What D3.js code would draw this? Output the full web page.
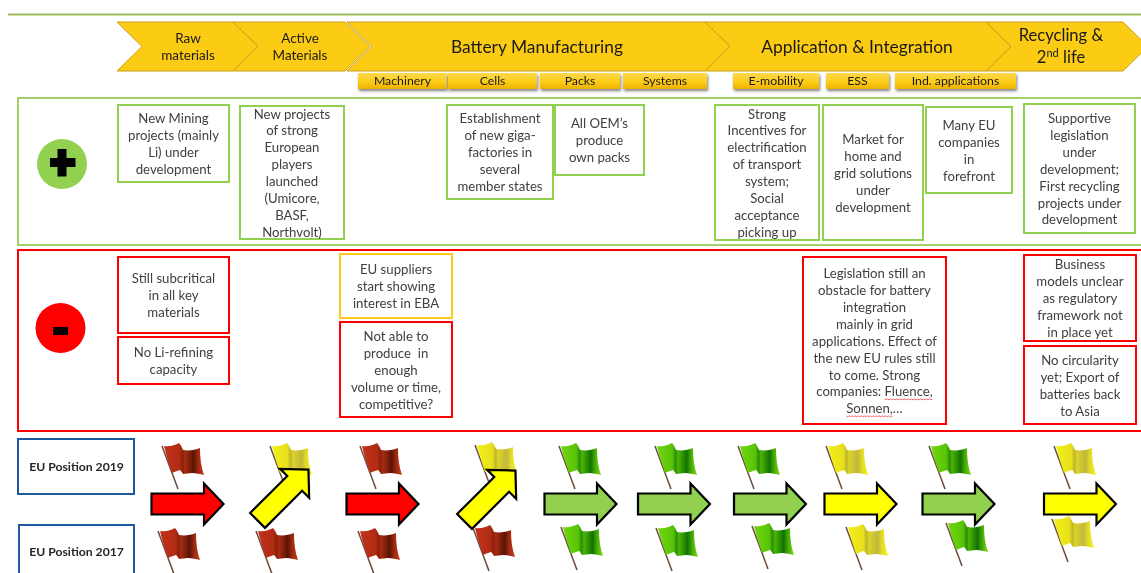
<!DOCTYPE html>
<html>
<head>
<meta charset="utf-8">
<script src="https://cdn.jsdelivr.net/npm/d3@7"></script>
<style>
  html, body { margin: 0; padding: 0; background: #fff; overflow: hidden; }
  svg { display: block; font-family: Lato, "Open Sans", sans-serif; filter: blur(0.3px); }
</style>
</head>
<body>
<div id="vis"></div>
<script>
// Chart content
const stages = ['Raw materials', 'Active Materials', 'Battery Manufacturing', 'Application & Integration', 'Recycling & 2nd life'];
const tabs = ['Machinery', 'Cells', 'Packs', 'Systems', 'E-mobility', 'ESS', 'Ind. applications'];
const columns = ['Raw materials', 'Active Materials', 'Machinery', 'Cells', 'Packs', 'Systems', 'E-mobility', 'ESS', 'Ind. applications', 'Recycling'];
const rating2019 = ['red', 'yellow', 'red', 'yellow', 'green', 'green', 'green', 'yellow', 'green', 'yellow'];
const rating2017 = ['red', 'red', 'red', 'red', 'green', 'green', 'green', 'yellow', 'green', 'yellow'];
const trend = ['red', 'yellow', 'red', 'yellow', 'green', 'green', 'green', 'yellow', 'green', 'yellow'];
const improving = [false, true, false, true, false, false, false, false, false, false];

const plusNotes = [
  ['New Mining', 'projects (mainly', 'Li) under', 'development'],
  ['New projects', 'of strong', 'European', 'players', 'launched', '(Umicore,', 'BASF,', 'Northvolt)'],
  ['Establishment', 'of new giga-', 'factories in', 'several', 'member states'],
  ['All OEM\u2019s', 'produce', 'own packs'],
  ['Strong', 'Incentives for', 'electrification', 'of transport', 'system;', 'Social', 'acceptance', 'picking up'],
  ['Market for', 'home and', 'grid solutions', 'under', 'development'],
  ['Many EU', 'companies', 'in', 'forefront'],
  ['Supportive', 'legislation', 'under', 'development;', 'First recycling', 'projects under', 'development']
];
const minusNotes = [
  ['Still subcritical', 'in all key', 'materials'],
  ['No Li-refining', 'capacity'],
  ['EU suppliers', 'start showing', 'interest in EBA'],
  ['Not able to', 'produce  in', 'enough', 'volume or time,', 'competitive?'],
  ['Legislation still an', 'obstacle for battery', 'integration', 'mainly in grid', 'applications. Effect of', 'the new EU rules still', 'to come. Strong', 'companies: Fluence,', 'Sonnen,\u2026'],
  ['Business', 'models unclear', 'as regulatory', 'framework not', 'in place yet'],
  ['No circularity', 'yet; Export of', 'batteries back', 'to Asia']
];
const minusTone = ['red', 'red', 'gold', 'red', 'red', 'red', 'red'];
const spellFlagged = ['Fluence,', 'Sonnen,'];
const positionLabels = ['EU Position 2019', 'EU Position 2017'];

// Layout
const width = 1141;
const height = 573;
const chevronEdges = [[117, 233], [233, 345], [347, 705], [705, 986], [986, 1123]];
const chevronDepth = 25;
const tabEdges = [[358, 447], [448, 537], [540, 620], [623, 707], [733, 819], [826, 889], [895, 1016]];
const plusRects = [
  [118, 105, 229, 182], [240, 106, 344, 239], [447, 105, 553, 199], [555, 105, 644, 175],
  [715, 105, 819, 240], [823, 105, 923, 240], [926, 107, 1012, 193], [1024, 104, 1135, 233]
];
const minusRects = [
  [118, 257, 229, 333], [118, 337, 229, 384], [340, 254, 452, 318], [340, 322, 452, 417],
  [803, 257, 946, 424], [1024, 255, 1136, 341], [1024, 346, 1136, 424]
];

const tone = d3.scaleOrdinal().domain(['green', 'red', 'gold']).range(['#92d050', '#ff0000', '#ffc91f']);
const arrowFill = d3.scaleOrdinal().domain(['red', 'yellow', 'green']).range(['#ff0000', '#ffff00', '#92d050']);

// Column scales: the columns are hand placed in the picture, not evenly spaced
const flagX2019 = d3.scaleOrdinal().domain(columns).range([162, 270, 360, 475, 559, 655, 738, 826, 929, 1054]);
const flagY2019 = d3.scaleOrdinal().domain(columns).range([446, 446, 446, 445, 446, 446, 446, 446, 446, 446]);
const flagX2017 = d3.scaleOrdinal().domain(columns).range([158, 256, 358, 473, 561, 656, 752, 846, 946, 1052]);
const flagY2017 = d3.scaleOrdinal().domain(columns).range([531, 531, 531, 528, 527, 528, 526, 527, 523, 519]);
const arrowX = d3.scaleOrdinal().domain(columns).range([187.5, 283, 382.5, 490, 580.5, 674, 770, 860.5, 958.5, 1080]);
const arrowY = d3.scaleOrdinal().domain(columns).range([504, 495, 504, 496, 504, 504, 504, 504, 504, 504]);

const svg = d3.select('#vis').append('svg')
  .attr('width', width)
  .attr('height', height)
  .attr('viewBox', '0 0 ' + width + ' ' + height);

const defs = svg.append('defs');

// Flag gradients, one per rating
const flagOffsets = [0, 0.38, 0.47, 0.52, 0.74, 0.86, 1];
const flagStops = {
  red: ['#c4301a', '#b02c14', '#8a2008', '#a82c12', '#5c1404', '#a02a10', '#c63a1e'],
  yellow: ['#f4f014', '#e8e01c', '#bdb42c', '#dcd428', '#c2b83c', '#e4dc28', '#f7f310'],
  green: ['#72d60e', '#58c408', '#2a8c02', '#4cb606', '#127400', '#48ac06', '#7edc10']
};
Object.keys(flagStops).forEach(function(k) {
  const g = defs.append('linearGradient').attr('id', 'flag-' + k);
  flagOffsets.forEach(function(o, i) {
    g.append('stop').attr('offset', o).attr('stop-color', flagStops[k][i]);
  });
});
const tabGrad = defs.append('linearGradient').attr('id', 'tab').attr('x2', 0).attr('y2', 1);
tabGrad.append('stop').attr('offset', 0).attr('stop-color', '#fdd94e');
tabGrad.append('stop').attr('offset', 0.6).attr('stop-color', '#fcca14');
tabGrad.append('stop').attr('offset', 1).attr('stop-color', '#efb100');

// Top rule
svg.append('line')
  .attr('x1', 8).attr('x2', width).attr('y1', 14.5).attr('y2', 14.5)
  .attr('stroke', '#9bbb59').attr('stroke-width', 2);

// Chevrons
function chevron(e) {
  const p = d3.path();
  p.moveTo(e[0], 22);
  p.lineTo(e[1], 22);
  p.lineTo(e[1] + chevronDepth, 46.5);
  p.lineTo(e[1], 71);
  p.lineTo(e[0], 71);
  p.lineTo(e[0] + chevronDepth, 46.5);
  p.closePath();
  return p.toString();
}
svg.append('g').selectAll('path')
  .data(chevronEdges)
  .join('path')
  .attr('d', chevron)
  .attr('fill', '#fccb14')
  .attr('stroke', '#c8a018')
  .attr('stroke-width', 1);

const stageLines = [['Raw', 'materials'], ['Active', 'Materials'], ['Battery Manufacturing'], ['Application & Integration'], ['Recycling &', '2nd life']];
const stageCx = [188, 300, 537, 857, 1061];
const stageSize = [13.5, 13.5, 17.4, 17.4, 16.6];
const stageStep = [17, 17, 0, 0, 22];
stageLines.forEach(function(lines, i) {
  lines.forEach(function(line, j) {
    const t = svg.append('text')
      .attr('x', stageCx[i])
      .attr('y', 46.5 + (j - (lines.length - 1) / 2) * stageStep[i])
      .attr('dy', '0.35em')
      .attr('text-anchor', 'middle')
      .attr('font-size', stageSize[i])
      .attr('fill', '#1a1a1a');
    if (line === '2nd life') {
      t.append('tspan').text('2');
      t.append('tspan').text('nd').attr('font-size', 11).attr('dy', -6);
      t.append('tspan').text(' life').attr('dy', 6);
    } else {
      t.text(line);
    }
  });
});

// Sub tabs
const tabG = svg.append('g').selectAll('g')
  .data(tabs)
  .join('g');
tabG.append('rect')
  .attr('x', function(d, i) { return tabEdges[i][0]; })
  .attr('width', function(d, i) { return tabEdges[i][1] - tabEdges[i][0]; })
  .attr('y', 73)
  .attr('height', 16)
  .attr('fill', 'url(#tab)')
  .style('filter', 'drop-shadow(1px 2px 1.5px rgba(0,0,0,0.5))');
tabG.append('text')
  .attr('x', function(d, i) { return (tabEdges[i][0] + tabEdges[i][1]) / 2; })
  .attr('y', 81)
  .attr('dy', '0.35em')
  .attr('text-anchor', 'middle')
  .attr('font-size', 12.3)
  .attr('fill', '#1a1a1a')
  .text(function(d) { return d; });

// Panels
svg.append('rect').attr('x', 18).attr('y', 98).attr('width', width + 10).attr('height', 147)
  .attr('fill', 'none').attr('stroke', '#a3d168').attr('stroke-width', 2);
svg.append('rect').attr('x', 18).attr('y', 250).attr('width', width + 10).attr('height', 181)
  .attr('fill', 'none').attr('stroke', '#ff0000').attr('stroke-width', 2);

// Plus and minus badges
svg.append('circle').attr('cx', 62).attr('cy', 164).attr('r', 25).attr('fill', '#92d050');
svg.append('path').attr('d', 'M57.5 149h9v9h9v9h-9v9.5h-9v-9.5h-7.5v-9h7.5z').attr('fill', '#000');
svg.append('circle').attr('cx', 60.5).attr('cy', 328).attr('r', 25).attr('fill', '#ff0000');
svg.append('rect').attr('x', 53).attr('y', 327).attr('width', 15).attr('height', 8).attr('fill', '#000');

// Note boxes
const lineStep = 16.9;
function drawNotes(notes, rects, toneOf) {
  notes.forEach(function(lines, i) {
    const r = rects[i];
    svg.append('rect')
      .attr('x', r[0]).attr('y', r[1])
      .attr('width', r[2] - r[0]).attr('height', r[3] - r[1])
      .attr('fill', 'none')
      .attr('stroke', tone(toneOf(i)))
      .attr('stroke-width', 2);
    const cy = (r[1] + r[3]) / 2 + 0.6;
    lines.forEach(function(line, j) {
      const t = svg.append('text')
        .attr('x', (r[0] + r[2]) / 2)
        .attr('y', cy + (j - (lines.length - 1) / 2) * lineStep)
        .attr('dy', '0.35em')
        .attr('text-anchor', 'middle')
        .attr('font-size', 13.2)
        .attr('fill', '#404040')
        .style('white-space', 'pre')
        .text(line);
      spellFlagged.forEach(function(word) {
        const at = line.indexOf(word);
        if (at >= 0) squiggle(t, at, word.length);
      });
    });
  });
}

// Red spell-check squiggle under part of a text line
function squiggle(t, at, len) {
  const n = t.node();
  const x0 = n.getStartPositionOfChar(at).x;
  const w = n.getSubStringLength(at, len);
  const y0 = n.getStartPositionOfChar(at).y + 2.5;
  const pts = d3.range(0, w, 1.5).map(function(x, i) { return [x0 + x, y0 + (i % 2 ? 1 : 0)]; });
  svg.append('path')
    .attr('d', d3.line()(pts))
    .attr('fill', 'none')
    .attr('stroke', '#e8404a')
    .attr('stroke-width', 0.8);
}

drawNotes(plusNotes, plusRects, function() { return 'green'; });
drawNotes(minusNotes, minusRects, function(i) { return minusTone[i]; });

// Position labels
const labelY = [439, 525];
const labelH = [55, 60];
positionLabels.forEach(function(d, i) {
  svg.append('rect')
    .attr('x', 18 + i).attr('y', labelY[i])
    .attr('width', 116 - i).attr('height', labelH[i])
    .attr('fill', '#fff')
    .attr('stroke', '#1f5aa0')
    .attr('stroke-width', 2);
  svg.append('text')
    .attr('x', 76.5).attr('y', [466.5, 552][i])
    .attr('dy', '0.35em')
    .attr('text-anchor', 'middle')
    .attr('font-size', 12.2)
    .attr('font-weight', 700)
    .attr('fill', '#262626')
    .text(d);
});

// Flags
const flagBody = 'M2 0C8 1 13 -1 17 -3C19 -1 20 2 21 4C27 5 33 4 38 2C38 12 39 21 42 29C38 28 34 27 30 27C27 27 24 28 21 28C20 26 19 25 18 24C15 25 12 26 10 27C7 18 4 9 2 0Z';
function drawFlags(rating, xs, ys) {
  const g = svg.append('g').selectAll('g')
    .data(columns)
    .join('g')
    .attr('transform', function(d) { return 'translate(' + xs(d) + ',' + ys(d) + ')'; });
  g.append('line')
    .attr('x1', 0).attr('y1', 0).attr('x2', 16).attr('y2', 43)
    .attr('stroke', '#6a4a3c').attr('stroke-width', 1.5);
  g.append('path')
    .attr('d', flagBody)
    .attr('fill', function(d, i) { return 'url(#flag-' + rating[i] + ')'; });
}
drawFlags(rating2019, flagX2019, flagY2019);
drawFlags(rating2017, flagX2017, flagY2017);

// Trend arrows, drawn over the flags
const arrowShape = 'M-36 -10.5H16.5V-20.5L36 0L16.5 20.5V10.5H-36Z';
svg.append('g').selectAll('path')
  .data(columns)
  .join('path')
  .attr('d', arrowShape)
  .attr('transform', function(d, i) {
    return 'translate(' + arrowX(d) + ',' + arrowY(d) + ')' + (improving[i] ? ' rotate(-45)' : '');
  })
  .attr('fill', function(d, i) { return arrowFill(trend[i]); })
  .attr('stroke', '#000')
  .attr('stroke-width', 2.2);
</script>
</body>
</html>
